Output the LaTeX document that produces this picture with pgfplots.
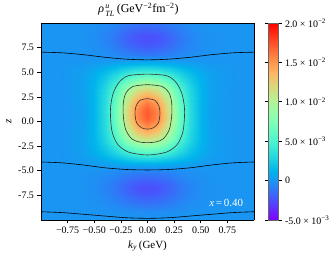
\documentclass[border=0pt]{standalone}
\usepackage{amsmath}
\usepackage{fontspec}
\setmainfont{Liberation Serif}
\usepackage{pgfplots}
\pgfplotsset{compat=1.18}
\pgfplotsset{colormap={mplrainbow}{rgb=(0.5,0,1) rgb=(0.375,0.195,0.995) rgb=(0.25,0.383,0.981) rgb=(0.125,0.556,0.957) rgb=(0,0.707,0.924) rgb=(0.125,0.831,0.882) rgb=(0.25,0.924,0.831) rgb=(0.375,0.981,0.773) rgb=(0.5,1,0.707) rgb=(0.625,0.981,0.634) rgb=(0.75,0.924,0.556) rgb=(0.875,0.831,0.471) rgb=(1,0.707,0.383) rgb=(1,0.556,0.290) rgb=(1,0.383,0.195) rgb=(1,0.195,0.098) rgb=(1,0,0)}}
\begin{document}
\begin{tikzpicture}
\useasboundingbox (-41bp,-39bp) rectangle (294bp,220bp);
\begin{axis}[
  at={(0,0)}, anchor=south west,
  width=213bp, height=197bp, scale only axis,
  view={0}{90},
  xmin=-1, xmax=1, ymin=-10, ymax=10,
  ztick=\empty,
  colormap name=mplrainbow,
  point meta min=-50, point meta max=200,
  axis on top,
  axis line style={black, line width=0.6bp},
  tick align=outside,
  major tick length=3.5bp,
  tick style={black, line width=0.6bp},
  xtick pos=left, ytick pos=left,
  xtick={-0.75,-0.5,-0.25,0,0.25,0.5,0.75},
  xticklabels={−0.75,−0.50,−0.25,0.00,0.25,0.50,0.75},
  ytick={-7.5,-5,-2.5,0,2.5,5,7.5},
  yticklabels={-7.5,-5.0,-2.5,0.0,2.5,5.0,7.5},
  tick label style={font=\fontsize{10}{12}\selectfont},
  label style={font=\fontsize{11}{13}\selectfont},
  title style={font=\fontsize{12}{14}\selectfont, yshift=-2.5bp, xshift=-9bp},
  title={${\text{\itshape ρ}\mkern2mu}^{\text{\itshape u}}_{\text{\itshape TL}}$\,(GeV$^{\text{−2}}$fm$^{\text{−2}}$)},
  xlabel={\textit{k}\textsubscript{\textit{y}}\,(GeV)},
  ylabel={\textit{z}},
  colorbar,
  colorbar style={
    at={(parent axis.north east)}, anchor=north west, xshift=5.5bp,
    width=10bp, height=197bp, scale only axis,
    axis line style={black!60, line width=0.5bp},
    ytick={-50,0,50,100,150,200},
    yticklabels={{-5.0 × 10$^{\text{−3}}$},{0},{5.0 × 10$^{\text{−3}}$},{1.0 × 10$^{\text{−2}}$},{1.5 × 10$^{\text{−2}}$},{2.0 × 10$^{\text{−2}}$}},
    yticklabel style={font=\fontsize{10}{12}\selectfont},
    tick align=outside, major tick length=3.5bp,
    ytick style={black, line width=0.6bp},
  },
]
\addplot3[surf, shader=interp] table {
-1 -10 0.0
-0.8 -10 0.0
-0.6 -10 0.0
-0.5 -10 0.0
-0.4 -10 0.1
-0.3 -10 0.2
-0.2 -10 0.3
-0.1 -10 0.4
0 -10 0.4
0.1 -10 0.4
0.2 -10 0.3
0.3 -10 0.2
0.4 -10 0.1
0.5 -10 0.0
0.6 -10 0.0
0.8 -10 0.0
1 -10 0.0

-1 -9.2 0.0
-0.8 -9.2 0.0
-0.6 -9.2 -0.1
-0.5 -9.2 -0.4
-0.4 -9.2 -0.8
-0.3 -9.2 -1.6
-0.2 -9.2 -2.4
-0.1 -9.2 -3.1
0 -9.2 -3.4
0.1 -9.2 -3.1
0.2 -9.2 -2.4
0.3 -9.2 -1.6
0.4 -9.2 -0.8
0.5 -9.2 -0.4
0.6 -9.2 -0.1
0.8 -9.2 0.0
1 -9.2 0.0

-1 -8.2 0.0
-0.8 -8.2 -0.1
-0.6 -8.2 -0.6
-0.5 -8.2 -1.7
-0.4 -8.2 -3.6
-0.3 -8.2 -6.7
-0.2 -8.2 -10.3
-0.1 -8.2 -13.4
0 -8.2 -14.6
0.1 -8.2 -13.4
0.2 -8.2 -10.3
0.3 -8.2 -6.7
0.4 -8.2 -3.6
0.5 -8.2 -1.7
0.6 -8.2 -0.6
0.8 -8.2 -0.1
1 -8.2 0.0

-1 -7.2 0.0
-0.8 -7.2 -0.1
-0.6 -7.2 -1.1
-0.5 -7.2 -2.7
-0.4 -7.2 -6.0
-0.3 -7.2 -11.0
-0.2 -7.2 -17.0
-0.1 -7.2 -22.1
0 -7.2 -24.1
0.1 -7.2 -22.1
0.2 -7.2 -17.0
0.3 -7.2 -11.0
0.4 -7.2 -6.0
0.5 -7.2 -2.7
0.6 -7.2 -1.1
0.8 -7.2 -0.1
1 -7.2 0.0

-1 -6.7 0.0
-0.8 -6.7 -0.1
-0.6 -6.7 -1.1
-0.5 -6.7 -2.8
-0.4 -6.7 -6.2
-0.3 -6.7 -11.4
-0.2 -6.7 -17.6
-0.1 -6.7 -22.8
0 -6.7 -24.9
0.1 -6.7 -22.8
0.2 -6.7 -17.6
0.3 -6.7 -11.4
0.4 -6.7 -6.2
0.5 -6.7 -2.8
0.6 -6.7 -1.1
0.8 -6.7 -0.1
1 -6.7 0.0

-1 -6.2 0.0
-0.8 -6.2 -0.1
-0.6 -6.2 -1.0
-0.5 -6.2 -2.6
-0.4 -6.2 -5.6
-0.3 -6.2 -10.3
-0.2 -6.2 -15.8
-0.1 -6.2 -20.5
0 -6.2 -22.4
0.1 -6.2 -20.5
0.2 -6.2 -15.8
0.3 -6.2 -10.3
0.4 -6.2 -5.6
0.5 -6.2 -2.6
0.6 -6.2 -1.0
0.8 -6.2 -0.1
1 -6.2 0.0

-1 -5.2 0.0
-0.8 -5.2 0.0
-0.6 -5.2 -0.5
-0.5 -5.2 -1.2
-0.4 -5.2 -2.6
-0.3 -5.2 -4.7
-0.2 -5.2 -7.3
-0.1 -5.2 -9.4
0 -5.2 -10.3
0.1 -5.2 -9.4
0.2 -5.2 -7.3
0.3 -5.2 -4.7
0.4 -5.2 -2.6
0.5 -5.2 -1.2
0.6 -5.2 -0.5
0.8 -5.2 0.0
1 -5.2 0.0

-1 -4.7 0.0
-0.8 -4.7 0.0
-0.6 -4.7 0.0
-0.5 -4.7 0.0
-0.4 -4.7 0.0
-0.3 -4.7 0.0
-0.2 -4.7 0.0
-0.1 -4.7 0.0
0 -4.7 0.0
0.1 -4.7 0.0
0.2 -4.7 0.0
0.3 -4.7 0.0
0.4 -4.7 0.0
0.5 -4.7 0.0
0.6 -4.7 0.0
0.8 -4.7 0.0
1 -4.7 0.0

-1 -4.2 0.0
-0.8 -4.2 0.3
-0.6 -4.2 1.7
-0.5 -4.2 3.3
-0.4 -4.2 5.5
-0.3 -4.2 8.2
-0.2 -4.2 11.0
-0.1 -4.2 13.0
0 -4.2 13.8
0.1 -4.2 13.0
0.2 -4.2 11.0
0.3 -4.2 8.2
0.4 -4.2 5.5
0.5 -4.2 3.3
0.6 -4.2 1.7
0.8 -4.2 0.3
1 -4.2 0.0

-1 -3.7 0.1
-0.8 -3.7 0.6
-0.6 -3.7 3.3
-0.5 -3.7 6.7
-0.4 -3.7 11.9
-0.3 -3.7 18.5
-0.2 -3.7 25.4
-0.1 -3.7 30.7
0 -3.7 32.7
0.1 -3.7 30.7
0.2 -3.7 25.4
0.3 -3.7 18.5
0.4 -3.7 11.9
0.5 -3.7 6.7
0.6 -3.7 3.3
0.8 -3.7 0.6
1 -3.7 0.1

-1 -3.2 0.0
-0.8 -3.2 0.6
-0.6 -3.2 4.4
-0.5 -3.2 9.5
-0.4 -3.2 17.8
-0.3 -3.2 29.0
-0.2 -3.2 41.0
-0.1 -3.2 50.6
0 -3.2 54.2
0.1 -3.2 50.6
0.2 -3.2 41.0
0.3 -3.2 29.0
0.4 -3.2 17.8
0.5 -3.2 9.5
0.6 -3.2 4.4
0.8 -3.2 0.6
1 -3.2 0.0

-1 -2.7 0.0
-0.8 -2.7 0.6
-0.6 -2.7 4.8
-0.5 -2.7 11.1
-0.4 -2.7 22.0
-0.3 -2.7 37.4
-0.2 -2.7 54.6
-0.1 -2.7 68.6
0 -2.7 74.0
0.1 -2.7 68.6
0.2 -2.7 54.6
0.3 -2.7 37.4
0.4 -2.7 22.0
0.5 -2.7 11.1
0.6 -2.7 4.8
0.8 -2.7 0.6
1 -2.7 0.0

-1 -2.2 0.0
-0.8 -2.2 0.5
-0.6 -2.2 5.1
-0.5 -2.2 12.5
-0.4 -2.2 26.1
-0.3 -2.2 46.5
-0.2 -2.2 70.0
-0.1 -2.2 89.5
0 -2.2 97.2
0.1 -2.2 89.5
0.2 -2.2 70.0
0.3 -2.2 46.5
0.4 -2.2 26.1
0.5 -2.2 12.5
0.6 -2.2 5.1
0.8 -2.2 0.5
1 -2.2 0.0

-1 -1.7 0.0
-0.8 -1.7 0.4
-0.6 -1.7 5.1
-0.5 -1.7 13.3
-0.4 -1.7 29.2
-0.3 -1.7 53.9
-0.2 -1.7 83.6
-0.1 -1.7 108.7
0 -1.7 118.7
0.1 -1.7 108.7
0.2 -1.7 83.6
0.3 -1.7 53.9
0.4 -1.7 29.2
0.5 -1.7 13.3
0.6 -1.7 5.1
0.8 -1.7 0.4
1 -1.7 0.0

-1 -1.2 0.0
-0.8 -1.2 0.4
-0.6 -1.2 4.8
-0.5 -1.2 13.3
-0.4 -1.2 30.7
-0.3 -1.2 58.8
-0.2 -1.2 93.8
-0.1 -1.2 123.8
0 -1.2 135.9
0.1 -1.2 123.8
0.2 -1.2 93.8
0.3 -1.2 58.8
0.4 -1.2 30.7
0.5 -1.2 13.3
0.6 -1.2 4.8
0.8 -1.2 0.4
1 -1.2 0.0

-1 -0.7 0.0
-0.8 -0.7 0.3
-0.6 -0.7 4.6
-0.5 -0.7 13.3
-0.4 -0.7 31.8
-0.3 -0.7 62.8
-0.2 -0.7 102.2
-0.1 -0.7 136.7
0 -0.7 150.7
0.1 -0.7 136.7
0.2 -0.7 102.2
0.3 -0.7 62.8
0.4 -0.7 31.8
0.5 -0.7 13.3
0.6 -0.7 4.6
0.8 -0.7 0.3
1 -0.7 0.0

-1 -0.2 0.0
-0.8 -0.2 0.3
-0.6 -0.2 4.3
-0.5 -0.2 13.1
-0.4 -0.2 32.4
-0.3 -0.2 65.7
-0.2 -0.2 108.5
-0.1 -0.2 146.6
0 -0.2 162.2
0.1 -0.2 146.6
0.2 -0.2 108.5
0.3 -0.2 65.7
0.4 -0.2 32.4
0.5 -0.2 13.1
0.6 -0.2 4.3
0.8 -0.2 0.3
1 -0.2 0.0

-1 0.3 0.0
-0.8 0.3 0.2
-0.6 0.3 4.2
-0.5 0.3 13.0
-0.4 0.3 32.9
-0.3 0.3 67.3
-0.2 0.3 112.6
-0.1 0.3 153.0
0 0.3 169.6
0.1 0.3 153.0
0.2 0.3 112.6
0.3 0.3 67.3
0.4 0.3 32.9
0.5 0.3 13.0
0.6 0.3 4.2
0.8 0.3 0.2
1 0.3 0.0

-1 0.8 0.0
-0.8 0.8 0.2
-0.6 0.8 4.2
-0.5 0.8 13.0
-0.4 0.8 32.9
-0.3 0.8 67.9
-0.2 0.8 113.9
-0.1 0.8 155.1
0 0.8 172.0
0.1 0.8 155.1
0.2 0.8 113.9
0.3 0.8 67.9
0.4 0.8 32.9
0.5 0.8 13.0
0.6 0.8 4.2
0.8 0.8 0.2
1 0.8 0.0

-1 1.3 0.0
-0.8 1.3 0.2
-0.6 1.3 4.2
-0.5 1.3 13.0
-0.4 1.3 32.9
-0.3 1.3 67.3
-0.2 1.3 112.6
-0.1 1.3 153.0
0 1.3 169.6
0.1 1.3 153.0
0.2 1.3 112.6
0.3 1.3 67.3
0.4 1.3 32.9
0.5 1.3 13.0
0.6 1.3 4.2
0.8 1.3 0.2
1 1.3 0.0

-1 1.8 0.0
-0.8 1.8 0.3
-0.6 1.8 4.3
-0.5 1.8 13.1
-0.4 1.8 32.4
-0.3 1.8 65.7
-0.2 1.8 108.5
-0.1 1.8 146.6
0 1.8 162.2
0.1 1.8 146.6
0.2 1.8 108.5
0.3 1.8 65.7
0.4 1.8 32.4
0.5 1.8 13.1
0.6 1.8 4.3
0.8 1.8 0.3
1 1.8 0.0

-1 2.3 0.0
-0.8 2.3 0.3
-0.6 2.3 4.6
-0.5 2.3 13.3
-0.4 2.3 31.8
-0.3 2.3 62.8
-0.2 2.3 102.2
-0.1 2.3 136.7
0 2.3 150.7
0.1 2.3 136.7
0.2 2.3 102.2
0.3 2.3 62.8
0.4 2.3 31.8
0.5 2.3 13.3
0.6 2.3 4.6
0.8 2.3 0.3
1 2.3 0.0

-1 2.8 0.0
-0.8 2.8 0.4
-0.6 2.8 4.8
-0.5 2.8 13.3
-0.4 2.8 30.7
-0.3 2.8 58.8
-0.2 2.8 93.8
-0.1 2.8 123.8
0 2.8 135.9
0.1 2.8 123.8
0.2 2.8 93.8
0.3 2.8 58.8
0.4 2.8 30.7
0.5 2.8 13.3
0.6 2.8 4.8
0.8 2.8 0.4
1 2.8 0.0

-1 3.3 0.0
-0.8 3.3 0.4
-0.6 3.3 5.1
-0.5 3.3 13.3
-0.4 3.3 29.2
-0.3 3.3 53.9
-0.2 3.3 83.6
-0.1 3.3 108.7
0 3.3 118.7
0.1 3.3 108.7
0.2 3.3 83.6
0.3 3.3 53.9
0.4 3.3 29.2
0.5 3.3 13.3
0.6 3.3 5.1
0.8 3.3 0.4
1 3.3 0.0

-1 3.8 0.0
-0.8 3.8 0.5
-0.6 3.8 5.1
-0.5 3.8 12.5
-0.4 3.8 26.1
-0.3 3.8 46.5
-0.2 3.8 70.0
-0.1 3.8 89.5
0 3.8 97.2
0.1 3.8 89.5
0.2 3.8 70.0
0.3 3.8 46.5
0.4 3.8 26.1
0.5 3.8 12.5
0.6 3.8 5.1
0.8 3.8 0.5
1 3.8 0.0

-1 4.3 0.0
-0.8 4.3 0.6
-0.6 4.3 4.8
-0.5 4.3 11.1
-0.4 4.3 22.0
-0.3 4.3 37.4
-0.2 4.3 54.6
-0.1 4.3 68.6
0 4.3 74.0
0.1 4.3 68.6
0.2 4.3 54.6
0.3 4.3 37.4
0.4 4.3 22.0
0.5 4.3 11.1
0.6 4.3 4.8
0.8 4.3 0.6
1 4.3 0.0

-1 4.8 0.0
-0.8 4.8 0.6
-0.6 4.8 4.4
-0.5 4.8 9.5
-0.4 4.8 17.8
-0.3 4.8 29.0
-0.2 4.8 41.0
-0.1 4.8 50.6
0 4.8 54.2
0.1 4.8 50.6
0.2 4.8 41.0
0.3 4.8 29.0
0.4 4.8 17.8
0.5 4.8 9.5
0.6 4.8 4.4
0.8 4.8 0.6
1 4.8 0.0

-1 5.3 0.1
-0.8 5.3 0.6
-0.6 5.3 3.3
-0.5 5.3 6.7
-0.4 5.3 11.9
-0.3 5.3 18.5
-0.2 5.3 25.4
-0.1 5.3 30.7
0 5.3 32.7
0.1 5.3 30.7
0.2 5.3 25.4
0.3 5.3 18.5
0.4 5.3 11.9
0.5 5.3 6.7
0.6 5.3 3.3
0.8 5.3 0.6
1 5.3 0.1

-1 5.8 0.0
-0.8 5.8 0.3
-0.6 5.8 1.7
-0.5 5.8 3.3
-0.4 5.8 5.5
-0.3 5.8 8.2
-0.2 5.8 11.0
-0.1 5.8 13.0
0 5.8 13.8
0.1 5.8 13.0
0.2 5.8 11.0
0.3 5.8 8.2
0.4 5.8 5.5
0.5 5.8 3.3
0.6 5.8 1.7
0.8 5.8 0.3
1 5.8 0.0

-1 6.3 0.0
-0.8 6.3 0.0
-0.6 6.3 0.0
-0.5 6.3 0.0
-0.4 6.3 0.0
-0.3 6.3 0.0
-0.2 6.3 0.0
-0.1 6.3 0.0
0 6.3 0.0
0.1 6.3 0.0
0.2 6.3 0.0
0.3 6.3 0.0
0.4 6.3 0.0
0.5 6.3 0.0
0.6 6.3 0.0
0.8 6.3 0.0
1 6.3 0.0

-1 6.8 0.0
-0.8 6.8 0.0
-0.6 6.8 -0.5
-0.5 6.8 -1.2
-0.4 6.8 -2.6
-0.3 6.8 -4.7
-0.2 6.8 -7.3
-0.1 6.8 -9.4
0 6.8 -10.3
0.1 6.8 -9.4
0.2 6.8 -7.3
0.3 6.8 -4.7
0.4 6.8 -2.6
0.5 6.8 -1.2
0.6 6.8 -0.5
0.8 6.8 0.0
1 6.8 0.0

-1 7.8 0.0
-0.8 7.8 -0.1
-0.6 7.8 -1.0
-0.5 7.8 -2.6
-0.4 7.8 -5.6
-0.3 7.8 -10.3
-0.2 7.8 -15.8
-0.1 7.8 -20.5
0 7.8 -22.4
0.1 7.8 -20.5
0.2 7.8 -15.8
0.3 7.8 -10.3
0.4 7.8 -5.6
0.5 7.8 -2.6
0.6 7.8 -1.0
0.8 7.8 -0.1
1 7.8 0.0

-1 8.3 0.0
-0.8 8.3 -0.1
-0.6 8.3 -1.1
-0.5 8.3 -2.8
-0.4 8.3 -6.2
-0.3 8.3 -11.4
-0.2 8.3 -17.6
-0.1 8.3 -22.8
0 8.3 -24.9
0.1 8.3 -22.8
0.2 8.3 -17.6
0.3 8.3 -11.4
0.4 8.3 -6.2
0.5 8.3 -2.8
0.6 8.3 -1.1
0.8 8.3 -0.1
1 8.3 0.0

-1 8.8 0.0
-0.8 8.8 -0.1
-0.6 8.8 -1.1
-0.5 8.8 -2.7
-0.4 8.8 -6.0
-0.3 8.8 -11.0
-0.2 8.8 -17.0
-0.1 8.8 -22.1
0 8.8 -24.1
0.1 8.8 -22.1
0.2 8.8 -17.0
0.3 8.8 -11.0
0.4 8.8 -6.0
0.5 8.8 -2.7
0.6 8.8 -1.1
0.8 8.8 -0.1
1 8.8 0.0

-1 9.8 0.0
-0.8 9.8 -0.1
-0.6 9.8 -0.6
-0.5 9.8 -1.7
-0.4 9.8 -3.6
-0.3 9.8 -6.7
-0.2 9.8 -10.3
-0.1 9.8 -13.4
0 9.8 -14.6
0.1 9.8 -13.4
0.2 9.8 -10.3
0.3 9.8 -6.7
0.4 9.8 -3.6
0.5 9.8 -1.7
0.6 9.8 -0.6
0.8 9.8 -0.1
1 9.8 0.0

-1 10 0.0
-0.8 10 0.0
-0.6 10 -0.5
-0.5 10 -1.4
-0.4 10 -3.0
-0.3 10 -5.6
-0.2 10 -8.6
-0.1 10 -11.2
0 10 -12.2
0.1 10 -11.2
0.2 10 -8.6
0.3 10 -5.6
0.4 10 -3.0
0.5 10 -1.4
0.6 10 -0.5
0.8 10 0.0
1 10 0.0
};
% zero contours
\addplot3[black, line width=0.6bp, smooth] coordinates {(-1,7.04,0) (-0.8,6.97,0) (-0.6,6.78,0) (-0.4,6.52,0) (-0.2,6.33,0) (0,6.26,0) (0.2,6.33,0) (0.4,6.52,0) (0.6,6.78,0) (0.8,6.97,0) (1,7.04,0)};
\addplot3[black, line width=0.6bp, smooth] coordinates {(-1,-4.11,0) (-0.8,-4.2,0) (-0.6,-4.42,0) (-0.4,-4.7,0) (-0.2,-4.87,0) (0,-4.92,0) (0.2,-4.87,0) (0.4,-4.7,0) (0.6,-4.42,0) (0.8,-4.2,0) (1,-4.11,0)};
\addplot3[black, line width=0.6bp, smooth] coordinates {(-1,-9.16,0) (-0.8,-9.25,0) (-0.6,-9.42,0) (-0.4,-9.6,0) (-0.2,-9.77,0) (0,-9.83,0) (0.2,-9.77,0) (0.4,-9.6,0) (0.6,-9.42,0) (0.8,-9.25,0) (1,-9.16,0)};
% closed contours
\addplot3[black!80, line width=0.6bp, smooth] coordinates {(0,4.815,0) (0.18,4.65,0) (0.268,3.97,0) (0.321,2.90,0) (0.346,1.55,0) (0.346,0.20,0) (0.330,-1.14,0) (0.280,-2.32,0) (0.18,-3.10,0) (0,-3.40,0) (-0.18,-3.10,0) (-0.28,-2.32,0) (-0.33,-1.14,0) (-0.346,0.20,0) (-0.346,1.55,0) (-0.321,2.90,0) (-0.268,3.97,0) (-0.18,4.65,0) (0,4.815,0)};
\addplot3[black!80, line width=0.6bp, smooth] coordinates {(0,3.74,0) (0.133,3.57,0) (0.202,2.90,0) (0.227,1.89,0) (0.227,0.54,0) (0.205,-0.81,0) (0.149,-1.75,0) (0.08,-2.07,0) (0,-2.15,0) (-0.08,-2.07,0) (-0.149,-1.75,0) (-0.205,-0.81,0) (-0.227,0.54,0) (-0.227,1.89,0) (-0.202,2.90,0) (-0.133,3.57,0) (0,3.74,0)};
\addplot3[black!80, line width=0.6bp, smooth] coordinates {(0,2.32,0) (0.07,2.15,0) (0.108,1.55,0) (0.117,0.775,0) (0.102,-0.135,0) (0.055,-0.64,0) (0,-0.77,0) (-0.055,-0.64,0) (-0.102,-0.135,0) (-0.117,0.775,0) (-0.108,1.55,0) (-0.07,2.15,0) (0,2.32,0)};
\node[anchor=east, text=white, inner sep=0pt, font=\fontsize{11}{13}\selectfont] at (axis cs:0.9,-8.28,0) {\textit{x}\,=\,0.40};
\end{axis}
\end{tikzpicture}
\end{document}
